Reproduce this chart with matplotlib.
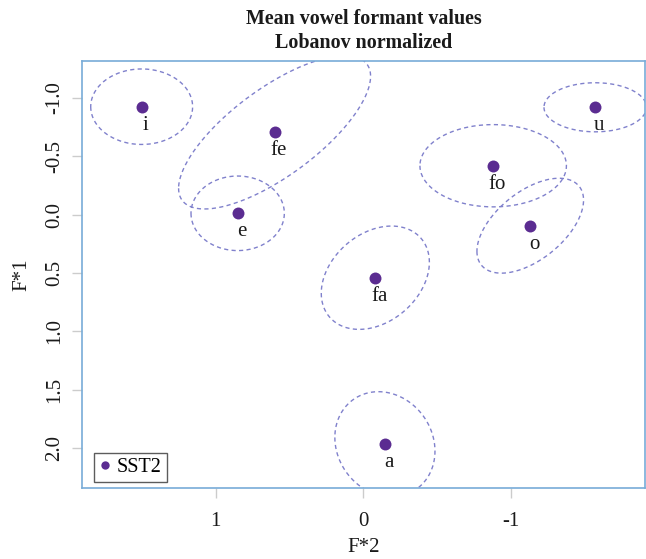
import numpy as np
import matplotlib
matplotlib.use('Agg')
import matplotlib.pyplot as plt
from matplotlib.lines import Line2D

plt.rcParams['font.family'] = ['Liberation Serif', 'DejaVu Serif']
plt.rcParams['axes.unicode_minus'] = False

# Data: mean normalized formants per vowel
vowels = ['i', 'fe', 'e', 'fa', 'a', 'fo', 'o', 'u']
f2 = [1.501, 0.601, 0.851, -0.081, -0.146, -0.879, -1.130, -1.570]
f1 = [-0.923, -0.704, -0.011, 0.540, 1.965, -0.418, 0.095, -0.918]
# Ellipse half-extents along F*2 / F*1 and correlation
ell_sx = [0.345, 0.650, 0.316, 0.366, 0.339, 0.496, 0.361, 0.347]
ell_sy = [0.323, 0.656, 0.319, 0.442, 0.450, 0.352, 0.406, 0.210]
ell_rho = [0.0, 0.73, 0.0, 0.30, -0.13, 0.0, 0.54, 0.0]

xticks = [1, 0, -1]
xticklabels = ['1', '0', '-1']
yticks = [-1.0, -0.5, 0.0, 0.5, 1.0, 1.5, 2.0]
yticklabels = ['-1.0', '-0.5', '0.0', '0.5', '1.0', '1.5', '2.0']
speaker = 'SST2'

point_color = '#5b2c91'
ell_color = '#8081cc'
frame_color = '#78acd8'

fig = plt.figure(figsize=(6.46, 5.59), dpi=100)
ax = fig.add_axes([82 / 646, 71 / 559, 563 / 646, 427 / 559])
ax.set_xlim(1.905, -1.907)
ax.set_ylim(2.339, -1.314)

t = np.linspace(0, 2 * np.pi, 300)
for cx, cy, sx, sy, r in zip(f2, f1, ell_sx, ell_sy, ell_rho):
    ex = cx + sx * np.cos(t)
    ey = cy + sy * (r * np.cos(t) + np.sqrt(1 - r * r) * np.sin(t))
    ax.plot(ex, ey, color=ell_color, lw=1.0, dashes=(3, 2.4))

ax.plot(f2, f1, 'o', color=point_color, ms=8.6, mec='none', zorder=3)
for v, x, y in zip(vowels, f2, f1):
    ax.annotate(v, (x, y), xytext=(3, -13.3), textcoords='offset points',
                ha='center', va='center', fontsize=15, color='#1a1a1a')

ax.set_xticks(xticks)
ax.set_xticklabels(xticklabels)
ax.set_yticks(yticks)
ax.set_yticklabels(yticklabels, rotation=90, va='center')
ax.tick_params(axis='both', length=7, width=1, color='#cccccc',
               labelsize=15, labelcolor='#1a1a1a')
ax.tick_params(axis='x', pad=10)
ax.tick_params(axis='y', pad=6)
for s in ax.spines.values():
    s.set_color(frame_color)
    s.set_linewidth(1.2)

ax.set_xlabel('F*2', fontsize=15, labelpad=5.5, color='#1a1a1a')
ax.set_ylabel('F*1', fontsize=15, labelpad=10, color='#1a1a1a')
ax.set_title('Mean vowel formant values\nLobanov normalized', fontsize=14.4,
             fontweight='bold', pad=9, color='#1a1a1a', linespacing=1.3)

handle = Line2D([], [], marker='o', ls='none', color=point_color, ms=6, mec='none')
leg = ax.legend([handle], [speaker], loc='lower left',
                bbox_to_anchor=(0.021, 0.014), borderaxespad=0,
                fontsize=14.5, frameon=True, fancybox=False,
                handlelength=0.6, handletextpad=0.3, borderpad=0.25)
leg.get_frame().set_edgecolor('#333333')
leg.get_frame().set_linewidth(1.0)

fig.savefig('out.png', dpi=100)
